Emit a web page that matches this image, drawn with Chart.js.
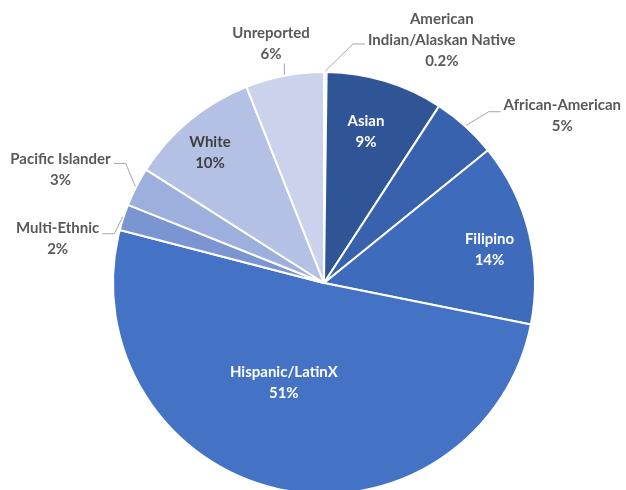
<!DOCTYPE html>
<html>
<head>
<meta charset="utf-8">
<script src="https://cdn.jsdelivr.net/npm/chart.js@4.4.1/dist/chart.umd.min.js"></script>
<style>
    html, body { margin: 0; padding: 0; background: #fff; overflow: hidden; }
    #wrap { position: relative; width: 626px; height: 500px; }
</style>
</head>
<body>
<div id="wrap"><canvas id="pie"></canvas></div>
<script>
// values, clockwise from 12 o'clock
const categories = ['American Indian/Alaskan Native', 'Asian', 'African-American', 'Filipino',
    'Hispanic/LatinX', 'Multi-Ethnic', 'Pacific Islander', 'White', 'Unreported'];
const shares = [0.2, 9, 5, 14, 51, 2, 3, 10, 6];
const labelLines = [['American', 'Indian/Alaskan Native'], ['Asian'], ['African-American'], ['Filipino'],
    ['Hispanic/LatinX'], ['Multi-Ethnic'], ['Pacific Islander'], ['White'], ['Unreported']];
const sliceColors = ['#dde2f2', '#2f5597', '#3862ae', '#3f6bbd', '#4472c4',
    '#7a95d2', '#9dafdc', '#b4c1e4', '#cbd2ec'];

// label placement: k = distance from centre in radii, da = angle shift (deg) from slice middle
// side: which edge of the text the leader line attaches to, oy = leader height vs text centre
const placement = [
    { k: 1.28, da: 25.5, color: '#595959', leader: { side: 'left', oy: 4 } },
    { k: 0.745, da: -1.4, color: '#ffffff' },
    { k: 1.38, da: 12.9, color: '#595959', leader: { side: 'left', oy: -4 } },
    { k: 0.80, da: 2.5, color: '#ffffff' },
    { k: 0.51, da: 9, color: '#ffffff' },
    { k: 1.28, da: -8.6, color: '#595959', leader: { side: 'right', oy: -4.5 } },
    { k: 1.36, da: -3.8, color: '#595959', leader: { side: 'right', oy: -6 } },
    { k: 0.82, da: -1.7, color: '#404040' },
    { k: 1.16, da: -1.7, color: '#595959', leader: { side: 'below' } }
];

const FONT = 'bold 15px Lato';
const LINE_H = 21;

const sliceLabels = {
    id: 'sliceLabels',
    afterDraw(chart) {
        const ctx = chart.ctx;
        const meta = chart.getDatasetMeta(0);
        ctx.save();
        ctx.font = FONT;
        ctx.textAlign = 'center';
        ctx.textBaseline = 'middle';
        meta.data.forEach((arc, i) => {
            const p = arc.getProps(['x', 'y', 'startAngle', 'endAngle', 'outerRadius'], true);
            const mid = (p.startAngle + p.endAngle) / 2;
            const cfg = placement[i];
            const a = mid + cfg.da * Math.PI / 180;
            const tx = p.x + Math.cos(a) * p.outerRadius * cfg.k;
            const ty = p.y + Math.sin(a) * p.outerRadius * cfg.k;
            const lines = labelLines[i].concat([shares[i] + '%']);
            const top = ty - (lines.length - 1) * LINE_H / 2;

            if (cfg.leader) {
                const sx = p.x + Math.cos(mid) * (p.outerRadius + 1);
                const sy = p.y + Math.sin(mid) * (p.outerRadius + 1);
                ctx.strokeStyle = '#a6a6a6';
                ctx.lineWidth = 1;
                ctx.beginPath();
                ctx.moveTo(sx, sy);
                if (cfg.leader.side === 'below') {
                    ctx.lineTo(sx, top + (lines.length - 1) * LINE_H + 9);
                } else {
                    const w = Math.max(...lines.map(t => ctx.measureText(t).width));
                    const dir = cfg.leader.side === 'left' ? -1 : 1;
                    const edge = tx + dir * (w / 2 + 3);
                    const ly = ty + cfg.leader.oy;
                    ctx.lineTo(edge + dir * 12, ly);
                    ctx.lineTo(edge, ly);
                }
                ctx.stroke();
            }

            ctx.fillStyle = cfg.color;
            lines.forEach((t, j) => ctx.fillText(t, tx, top + j * LINE_H));
        });
        ctx.restore();
    }
};

new Chart(document.getElementById('pie'), {
    type: 'pie',
    data: {
        labels: categories,
        datasets: [{
            data: shares,
            backgroundColor: sliceColors,
            borderColor: '#ffffff',
            borderWidth: 2
        }]
    },
    options: {
        responsive: true,
        maintainAspectRatio: false,
        animation: false,
        layout: { padding: { top: 71, bottom: 5, left: 112, right: 90 } },
        plugins: {
            legend: { display: false },
            tooltip: { enabled: false }
        }
    },
    plugins: [sliceLabels]
});
</script>
</body>
</html>
